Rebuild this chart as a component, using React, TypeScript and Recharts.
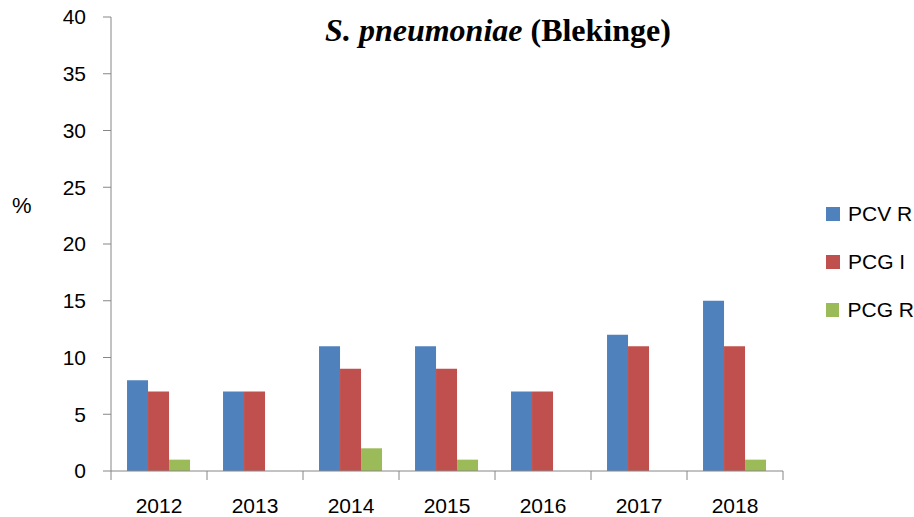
import { BarChart, Bar, XAxis, YAxis, Legend } from 'recharts';

const years = ['2012', '2013', '2014', '2015', '2016', '2017', '2018'];
const pcvR = [8, 7, 11, 11, 7, 12, 15];
const pcgI = [7, 7, 9, 9, 7, 11, 11];
const pcgR = [1, 0, 2, 1, 0, 0, 1];
const yTicks = [0, 5, 10, 15, 20, 25, 30, 35, 40];

const series = [
  { key: 'pcvR', name: 'PCV R', color: '#4F81BD' },
  { key: 'pcgI', name: 'PCG I', color: '#C0504D' },
  { key: 'pcgR', name: 'PCG R', color: '#9BBB59' },
];

const data = years.map((year, i) => ({
  year,
  pcvR: pcvR[i],
  pcgI: pcgI[i],
  pcgR: pcgR[i],
}));

const W = 914;
const H = 517;
const AXIS = '#868686';
const FONT = '"Liberation Sans", Arial, sans-serif';
const PLOT_LEFT = 111;
const PLOT_RIGHT = 131;
const BAND = (W - PLOT_LEFT - PLOT_RIGHT) / years.length;

function XTick(props: any) {
  const { x, y, payload, index } = props;
  const last = index === years.length - 1;
  const top = y - 8;
  return (
    <g>
      <line x1={x - BAND / 2} x2={x - BAND / 2} y1={top} y2={top + 9} stroke={AXIS} />
      {last && <line x1={x + BAND / 2} x2={x + BAND / 2} y1={top} y2={top + 9} stroke={AXIS} />}
      <text x={x} y={y + 34} textAnchor="middle" fill="#000" fontSize={21} fontFamily={FONT}>
        {payload.value}
      </text>
    </g>
  );
}

function LegendBox() {
  return (
    <div>
      {series.map((s) => (
        <div
          key={s.key}
          style={{
            display: 'flex',
            alignItems: 'center',
            height: 48,
            fontFamily: FONT,
            fontSize: 21,
            whiteSpace: 'nowrap',
          }}
        >
          <span style={{ width: 14, height: 14, background: s.color, marginRight: 8 }} />
          <span>{s.name}</span>
        </div>
      ))}
    </div>
  );
}

export default function App() {
  return (
    <div style={{ position: 'absolute', left: 0, top: 0, width: W, height: H, background: '#fff' }}>
      <div
        style={{
          position: 'absolute',
          left: 248,
          width: 500,
          top: 12,
          textAlign: 'center',
          fontFamily: '"Liberation Serif", "Times New Roman", serif',
          fontWeight: 'bold',
          fontSize: 32,
          zIndex: 2,
        }}
      >
        <i>S. pneumoniae</i> (Blekinge)
      </div>
      <div
        style={{ position: 'absolute', left: 12, top: 193, fontFamily: FONT, fontSize: 22, zIndex: 2 }}
      >
        %
      </div>
      <BarChart
        width={W}
        height={H}
        data={data}
        margin={{ top: 17, right: PLOT_RIGHT, bottom: 6, left: 0 }}
        barCategoryGap="16.7%"
        barGap={0}
      >
        <XAxis
          dataKey="year"
          stroke={AXIS}
          tickLine={false}
          tick={<XTick />}
          height={40}
          interval={0}
        />
        <YAxis
          domain={[0, 40]}
          ticks={yTicks}
          width={PLOT_LEFT}
          stroke={AXIS}
          tickSize={8}
          tickMargin={17}
          tick={{ fill: '#000', fontSize: 21, fontFamily: FONT }}
          interval={0}
        />
        <Legend
          layout="horizontal"
          verticalAlign="middle"
          align="center"
          content={<LegendBox />}
          wrapperStyle={{ left: 826, top: 190, width: 88 }}
        />
        {series.map((s) => (
          <Bar key={s.key} dataKey={s.key} name={s.name} fill={s.color} isAnimationActive={false} />
        ))}
      </BarChart>
    </div>
  );
}
